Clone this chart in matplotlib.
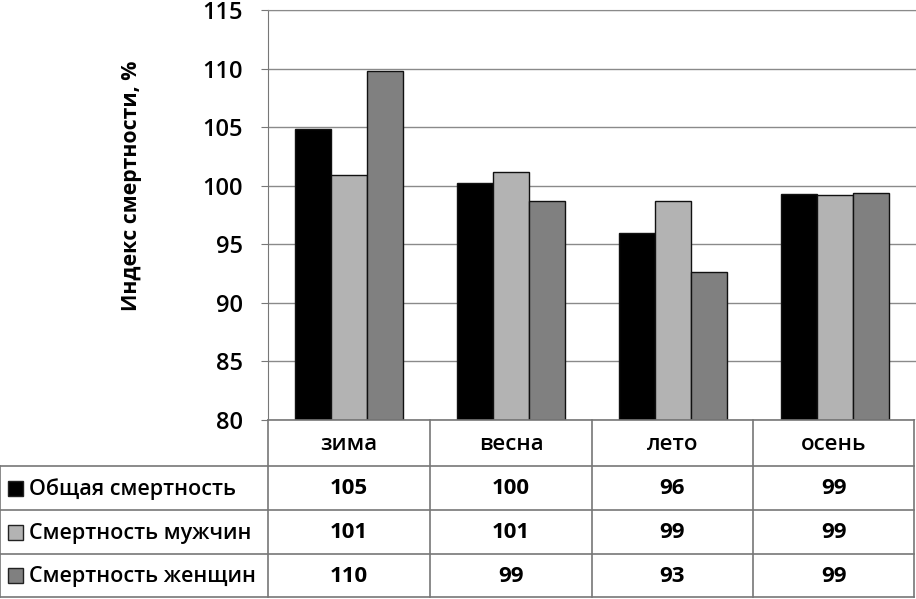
import matplotlib
matplotlib.use("Agg")
import matplotlib.pyplot as plt
from matplotlib.patches import Rectangle
import numpy as np

plt.rcParams['font.family'] = ['Open Sans', 'DejaVu Sans']

categories = ["зима", "весна", "лето", "осень"]
series_names = ["Общая смертность", "Смертность мужчин", "Смертность женщин"]
total = [104.8, 100.2, 96.0, 99.3]
men = [100.9, 101.2, 98.7, 99.2]
women = [109.8, 98.7, 92.6, 99.4]
table_total = ["105", "100", "96", "99"]
table_men = ["101", "101", "99", "99"]
table_women = ["110", "99", "93", "99"]
yticks = [80, 85, 90, 95, 100, 105, 110, 115]
ylabel = "Индекс смертности, %"

series = [total, men, women]
table_rows = [table_total, table_men, table_women]
colors = ["#000000", "#b3b3b3", "#808080"]

W, H = 916, 599
fig = plt.figure(figsize=(W / 100, H / 100), dpi=100)

# pixel geometry
px_left, px_right, px_top, px_bottom = 268, 916, 10, 420
ax = fig.add_axes([px_left / W, 1 - px_bottom / H,
                   (px_right - px_left) / W, (px_bottom - px_top) / H])
x = np.arange(len(categories))
bw = 0.222
for i, (vals, c) in enumerate(zip(series, colors)):
    ax.bar(x + (i - 1) * bw, np.array(vals) - 80, bottom=80, width=bw,
           color=c, edgecolor="#111111", linewidth=1.0, zorder=3)
ax.set_xlim(-0.5, len(categories) - 0.5)
ax.set_ylim(80, 115)
ax.set_yticks(yticks)
ax.set_yticklabels([str(t) for t in yticks], fontsize=17, fontweight="semibold")
ax.set_xticks([])
ax.yaxis.grid(True, color="#8a8a8a", linewidth=1.0, zorder=0)
for s in ["right", "bottom"]:
    ax.spines[s].set_visible(False)
ax.spines["left"].set_color("#777777")
ax.spines["top"].set_color("#8a8a8a")
ax.tick_params(axis="y", length=5, color="#777777", pad=13)

# data table / overlay axes in pixel coordinates
tax = fig.add_axes([0, 0, 1, 1])
tax.set_xlim(0, W)
tax.set_ylim(H, 0)
tax.axis("off")

tax.text(131, 186, ylabel, rotation=90, ha="center", va="center",
         fontsize=15.3, fontweight="bold")

lc = "#777777"
row_edges = [420, 466, 510, 554, 597]
col_edges = [0, 268, 430, 592, 753, 914]
tax.plot([268, 914], [row_edges[0]] * 2, color=lc, lw=1.2)
for yv in row_edges[1:]:
    tax.plot([0, 914], [yv, yv], color=lc, lw=1.2)
for xv in col_edges[1:]:
    tax.plot([xv, xv], [row_edges[0], row_edges[-1]], color=lc, lw=1.2)
tax.plot([0, 0], [row_edges[1], row_edges[-1]], color=lc, lw=1.2)

for j, cat in enumerate(categories):
    cx = (col_edges[j + 1] + col_edges[j + 2]) / 2
    tax.text(cx, (row_edges[0] + row_edges[1]) / 2 + 2, cat, ha="center",
             va="center", fontsize=16, fontweight="semibold")
for i, (name, vals, c) in enumerate(zip(series_names, table_rows, colors)):
    cy = (row_edges[i + 1] + row_edges[i + 2]) / 2
    tax.add_patch(Rectangle((8, cy - 7.5), 15, 15, facecolor=c,
                            edgecolor="#222222", lw=1.0))
    tax.text(29, cy + 1, name, ha="left", va="center", fontsize=15.5,
             fontweight="semibold")
    for j, v in enumerate(vals):
        cx = (col_edges[j + 1] + col_edges[j + 2]) / 2
        tax.text(cx, cy + 1, v, ha="center", va="center", fontsize=16,
                 fontweight="bold")

fig.savefig("out.png", dpi=100)
